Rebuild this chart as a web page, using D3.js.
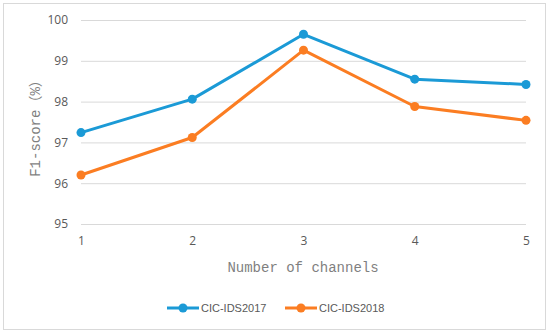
<!DOCTYPE html>
<html><head><meta charset="utf-8">
<script src="https://cdn.jsdelivr.net/npm/d3@7"></script>
<style>body{margin:0;background:#fff}svg{display:block}</style>
</head><body>
<svg id="c" width="550" height="334"></svg>
<script>
const channels = [1, 2, 3, 4, 5];
const cic2017 = [97.24, 98.06, 99.65, 98.55, 98.42];
const cic2018 = [96.2, 97.12, 99.26, 97.88, 97.54];
const yTicks = [95, 96, 97, 98, 99, 100];
const seriesNames = ["CIC-IDS2017", "CIC-IDS2018"];
const colors = ["#1b9ad6", "#fb7d22"];

const svg = d3.select("#c");
svg.append("rect").attr("x", 3.5).attr("y", 3.5).attr("width", 542).attr("height", 326)
  .attr("fill", "#fff").attr("stroke", "#d9d9d9");

const x = d3.scaleLinear().domain([1, 5]).range([81, 526]);
const y = d3.scaleLinear().domain([95, 100]).range([224, 20]);

// gridlines
const yAxis = d3.axisLeft(y).tickValues(yTicks).tickSize(-(526 - 81)).tickPadding(13).tickFormat(d3.format("d"));
const gy = svg.append("g").attr("transform", "translate(81,0)").call(yAxis);
gy.select(".domain").remove();
gy.selectAll(".tick line").attr("stroke", "#d9d9d9").attr("stroke-width", 1);
gy.selectAll(".tick text").attr("fill", "#595959").attr("font-family", "Open Sans, Liberation Sans, sans-serif").attr("font-size", 12);

const xAxis = d3.axisBottom(x).tickValues(channels).tickSize(0).tickPadding(12).tickFormat(d3.format("d"));
const gx = svg.append("g").attr("transform", "translate(0,224)").call(xAxis);
gx.select(".domain").remove();
gx.selectAll(".tick text").attr("fill", "#595959").attr("font-family", "Open Sans, Liberation Sans, sans-serif").attr("font-size", 12);

// titles
svg.append("text").attr("x", 303).attr("y", 272).attr("text-anchor", "middle")
  .attr("font-family", "Liberation Mono, DejaVu Sans Mono, monospace").attr("font-size", 14)
  .attr("fill", "#7f7f7f").text("Number of channels");
svg.append("text").attr("transform", "translate(40,125) rotate(-90)").attr("text-anchor", "middle")
  .attr("font-family", "Liberation Mono, Noto Sans CJK SC, monospace").attr("font-size", 14)
  .attr("fill", "#7f7f7f").text("F1-score（%）");

const line = d3.line().x((d, i) => x(channels[i])).y(d => y(d));
[cic2017, cic2018].forEach((s, k) => {
  svg.append("path").datum(s).attr("d", line).attr("fill", "none")
    .attr("stroke", colors[k]).attr("stroke-width", 3).attr("stroke-linejoin", "round");
  svg.selectAll(null).data(s).enter().append("circle")
    .attr("cx", (d, i) => x(channels[i])).attr("cy", d => y(d)).attr("r", 4.5).attr("fill", colors[k]);
});

// legend
const lx = [167, 285];
seriesNames.forEach((n, k) => {
  const g = svg.append("g");
  g.append("line").attr("x1", lx[k]).attr("x2", lx[k] + 32).attr("y1", 308).attr("y2", 308)
    .attr("stroke", colors[k]).attr("stroke-width", 3);
  g.append("circle").attr("cx", lx[k] + 16).attr("cy", 308).attr("r", 4.5).attr("fill", colors[k]);
  g.append("text").attr("x", lx[k] + 34).attr("y", 312).attr("font-family", "Liberation Sans, sans-serif")
    .attr("font-size", 11).attr("fill", "#595959").text(n);
});
</script>
</body></html>
